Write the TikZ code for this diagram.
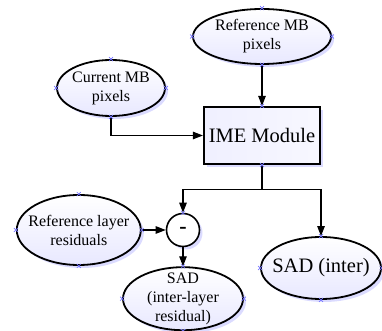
\documentclass[tikz,border=0pt]{standalone}
\usepackage{fontspec}
\setmainfont{Liberation Serif}
\usetikzlibrary{positioning,arrows.meta,shapes.geometric,shadows}

\begin{document}
\begin{tikzpicture}[
  x=1pt, y=1pt,
  font=\fontsize{16}{19}\selectfont,
  shad/.style={drop shadow={shadow xshift=3pt, shadow yshift=-3pt, fill=blue!20, opacity=0.7}},
  oval/.style={ellipse, draw, line width=1.8pt, inner sep=0pt, shad, top color=white, bottom color=blue!9},
  modbox/.style={rectangle, draw, line width=2.2pt, inner sep=0pt, shad, left color=blue!6, right color=blue!3,
    minimum width=116pt, minimum height=57pt, font=\fontsize{20.5}{24}\selectfont},
  sumc/.style={circle, draw, line width=1.6pt, inner sep=0pt, minimum size=33pt, fill=white, shad},
  txt/.style={align=center},
  conn/.style={line width=1.1pt},
  arr/.style={conn, -{Triangle[length=10pt, width=7.5pt]}},
  xmark/.style={draw=blue!55, line width=0.6pt}
]
\useasboundingbox (0,0) rectangle (382,331);
\node[modbox] (ime) at (262,195.5) {IME Module};
\node[oval, minimum width=138pt, minimum height=55pt, above=41pt of ime,
  label={[txt]center:Reference MB\\pixels}] (refmb) {};
\node[oval, minimum width=108pt, minimum height=56pt,
  label={[txt]center:Current MB\\pixels}] (curmb) at (111,243) {};
\node[sumc] (minus) at (183,101) {\fontsize{22}{22}\selectfont\bfseries -};
\node[oval, minimum width=124pt, minimum height=70pt, left=24pt of minus,
  label={[txt]center:Reference layer\\residuals}] (refres) {};
\node[oval, minimum width=120pt, minimum height=63pt, below=19pt of minus,
  label={[txt]center:SAD\\(inter-layer\\residual)}] (sadil) {};
\node[oval, minimum width=120pt, minimum height=62pt,
  label={[txt, font=\fontsize{20.5}{24}\selectfont]center:SAD (inter)}] (sadinter) at (321,63) {};
\coordinate (split) at ([yshift=-24pt]ime.south);
\draw[arr] (refmb) -- (ime);
\draw[arr] (curmb) |- (ime);
\draw[conn] (ime) -- (split);
\draw[arr] (split) -| (minus);
\draw[arr] (split) -| (sadinter);
\draw[arr] (refres) -- (minus);
\draw[arr] (minus) -- (sadil);
% connection marks
\foreach \n in {refmb,curmb,refres,sadil,sadinter}
  \foreach \a in {north,south,east,west}
    \draw[xmark] (\n.\a) +(-2,-2) -- +(2,2) +(-2,2) -- +(2,-2);
\foreach \a in {north,south}
  \draw[xmark] (ime.\a) +(-2,-2) -- +(2,2) +(-2,2) -- +(2,-2);
\draw[xmark] (minus.north) +(-2,-2) -- +(2,2) +(-2,2) -- +(2,-2);
\end{tikzpicture}
\end{document}
